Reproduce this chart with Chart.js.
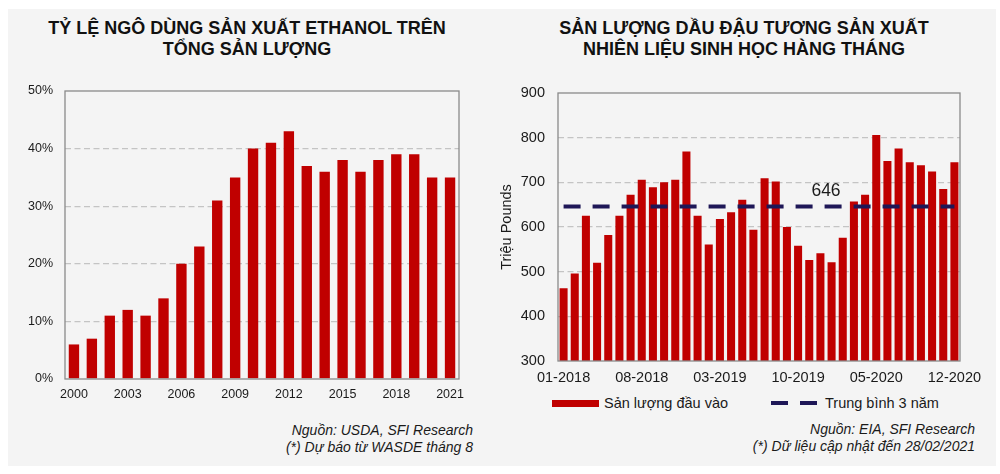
<!DOCTYPE html>
<html lang="vi">
<head>
<meta charset="UTF-8">
<title>Ngô ethanol và dầu đậu tương</title>
<script src="https://cdn.jsdelivr.net/npm/chart.js@4.4.1/dist/chart.umd.min.js"></script>
<style>
    body {
        margin: 0;
        width: 1000px;
        height: 474px;
        background: #ffffff;
        font-family: 'Liberation Sans', Arial, sans-serif;
        color: #1a1a1a;
        position: relative;
        overflow: hidden;
    }
    .panel {
        position: absolute;
        left: 8px; top: 9px;
        width: 988px; height: 457px;
        background: #f4f4f4;
    }
    .title {
        position: absolute;
        top: 18px;
        font-weight: bold;
        font-size: 18px;
        line-height: 21px;
        text-align: center;
        color: #111;
    }
    .box { position: absolute; }
    .note {
        position: absolute;
        font-style: italic;
        font-size: 14px;
        line-height: 17px;
        text-align: right;
        color: #1a1a1a;
    }
    .legend {
        position: absolute;
        top: 394px;
        height: 18px;
        font-size: 14.5px;
        line-height: 18px;
        color: #1a1a1a;
    }
    .swatch {
        position: absolute;
        top: 6px;
        width: 47px;
    }
</style>
</head>
<body>
<div class="panel"></div>

<div class="title" style="left:0; width:494px;">TỶ LỆ NGÔ DÙNG SẢN XUẤT ETHANOL TRÊN<br>TỔNG SẢN LƯỢNG</div>
<div class="title" style="left:494px; width:500px;">SẢN LƯỢNG DẦU ĐẬU TƯƠNG SẢN XUẤT<br>NHIÊN LIỆU SINH HỌC HÀNG THÁNG</div>

<div class="box" style="left:0; top:80px; width:480px; height:330px;">
    <canvas id="ethanol" width="480" height="330"></canvas>
</div>
<div class="box" style="left:490px; top:80px; width:510px; height:310px;">
    <canvas id="soy" width="510" height="310"></canvas>
</div>

<div class="legend" style="left:552px; width:200px;">
    <div class="swatch" style="left:0; height:7px; background:#c00000;"></div>
    <span style="position:absolute; left:52px;">Sản lượng đầu vào</span>
</div>
<div class="legend" style="left:771px; width:200px;">
    <div class="swatch" style="left:0; top:7px; height:4px; background:repeating-linear-gradient(to right, #1e1757 0 17px, transparent 17px 29px);"></div>
    <span style="position:absolute; left:54px;">Trung bình 3 năm</span>
</div>

<div class="note" style="right:527px; top:422px;">Nguồn: USDA, SFI Research<br>(*) Dự báo từ WASDE tháng 8</div>
<div class="note" style="right:25px; top:421px;">Nguồn: EIA, SFI Research<br>(*) Dữ liệu cập nhật đến 28/02/2021</div>

<script>
    // Left chart: share of corn used for ethanol
    const years = ['2000','2001','2002','2003','2004','2005','2006','2007','2008','2009','2010',
                   '2011','2012','2013','2014','2015','2016','2017','2018','2019','2020','2021'];
    const ethanolShare = [6, 7, 11, 12, 11, 14, 20, 23, 31, 35, 40, 41, 43, 37, 36, 38, 36, 38, 39, 39, 35, 35];
    const shareTicks = [0, 10, 20, 30, 40, 50];

    // Right chart: monthly soybean oil used for biofuel (million pounds)
    const months = ['01-2018','02-2018','03-2018','04-2018','05-2018','06-2018','07-2018','08-2018','09-2018','10-2018','11-2018','12-2018',
                    '01-2019','02-2019','03-2019','04-2019','05-2019','06-2019','07-2019','08-2019','09-2019','10-2019','11-2019','12-2019',
                    '01-2020','02-2020','03-2020','04-2020','05-2020','06-2020','07-2020','08-2020','09-2020','10-2020','11-2020','12-2020'];
    const soyInput = [463, 496, 625, 520, 582, 625, 672, 706, 689, 700, 706, 769,
                      625, 561, 618, 633, 661, 594, 709, 702, 600, 558, 526, 541,
                      521, 576, 657, 672, 806, 748, 776, 745, 738, 724, 685, 745];
    const avg3y = 646;
    const soyTicks = [300, 400, 500, 600, 700, 800, 900];

    const RED = '#c00000';
    const NAVY = '#1e1757';
    const GRID = '#c4c4c4';
    const CLEAR = 'rgba(0,0,0,0)';

    Chart.defaults.font.family = "'Liberation Sans', Arial, sans-serif";
    Chart.defaults.color = '#1a1a1a';

    // box around the plot area
    const frame = {
        id: 'frame',
        afterDraw(chart) {
            const a = chart.chartArea;
            const ctx = chart.ctx;
            ctx.save();
            ctx.setLineDash([]);
            ctx.strokeStyle = '#8a8a8a';
            ctx.lineWidth = 1.3;
            ctx.strokeRect(a.left, a.top, a.right - a.left, a.bottom - a.top);
            ctx.restore();
        }
    };

    function innerGrid(ctx) {
        const s = ctx.scale;
        return (ctx.tick.value === s.min || ctx.tick.value === s.max) ? CLEAR : GRID;
    }

    new Chart(document.getElementById('ethanol'), {
        type: 'bar',
        data: {
            labels: years,
            datasets: [{
                label: 'Tỷ lệ',
                data: ethanolShare,
                backgroundColor: RED,
                barPercentage: 0.58,
                categoryPercentage: 1
            }]
        },
        options: {
            responsive: false,
            devicePixelRatio: 1,
            animation: false,
            layout: { padding: { left: 0, right: 21, top: 11, bottom: 0 } },
            plugins: { legend: { display: false }, tooltip: { enabled: false } },
            scales: {
                x: {
                    grid: { display: false, drawTicks: false },
                    border: { display: false },
                    afterFit: s => { s.height = 31; },
                    ticks: {
                        autoSkip: false,
                        maxRotation: 0,
                        padding: 8,
                        font: { size: 12.5 },
                        callback: (v, i) => i % 3 === 0 ? years[i] : ''
                    }
                },
                y: {
                    min: 0,
                    max: 50,
                    afterFit: s => { s.width = 65; },
                    afterBuildTicks: s => { s.ticks = shareTicks.map(v => ({ value: v })); },
                    grid: { color: innerGrid, drawTicks: true, tickLength: 12, tickColor: CLEAR, lineWidth: 1.3 },
                    border: { display: false, dash: [6, 3.5] },
                    ticks: {
                        padding: 0,
                        font: { size: 12.5 },
                        callback: v => v + '%'
                    }
                }
            }
        },
        plugins: [frame]
    });

    // value label for the 3-year average line
    const avgLabel = {
        id: 'avgLabel',
        afterDatasetsDraw(chart) {
            const x = chart.scales.x;
            const y = chart.scales.y;
            const ctx = chart.ctx;
            ctx.save();
            ctx.font = "17.5px 'Liberation Sans', Arial, sans-serif";
            ctx.fillStyle = '#1a1a1a';
            ctx.textAlign = 'center';
            ctx.textBaseline = 'middle';
            ctx.fillText(String(avg3y), (x.getPixelForValue(23) + x.getPixelForValue(24)) / 2, y.getPixelForValue(avg3y) - 15);
            ctx.restore();
        }
    };

    new Chart(document.getElementById('soy'), {
        type: 'bar',
        data: {
            labels: months,
            datasets: [{
                type: 'line',
                label: 'Trung bình 3 năm',
                data: months.map(() => avg3y),
                borderColor: NAVY,
                borderWidth: 4,
                borderDash: [17, 12],
                pointRadius: 0,
                fill: false,
                order: 0
            }, {
                label: 'Sản lượng đầu vào',
                data: soyInput,
                backgroundColor: RED,
                barPercentage: 0.72,
                categoryPercentage: 1,
                order: 1
            }]
        },
        options: {
            responsive: false,
            devicePixelRatio: 1,
            animation: false,
            layout: { padding: { left: 0, right: 40, top: 13, bottom: 0 } },
            plugins: { legend: { display: false }, tooltip: { enabled: false } },
            scales: {
                x: {
                    grid: { display: false, drawTicks: false },
                    border: { display: false },
                    afterFit: s => { s.height = 29; },
                    ticks: {
                        autoSkip: false,
                        maxRotation: 0,
                        padding: 8,
                        font: { size: 14.5 },
                        callback: (v, i) => i % 7 === 0 ? months[i] : ''
                    }
                },
                y: {
                    min: 300,
                    max: 900,
                    afterFit: s => { s.width = 68; },
                    afterBuildTicks: s => { s.ticks = soyTicks.map(v => ({ value: v })); },
                    grid: { color: innerGrid, drawTicks: true, tickLength: 13, tickColor: CLEAR, lineWidth: 1.3 },
                    border: { display: false, dash: [6, 3.5] },
                    title: {
                        display: true,
                        text: 'Triệu Pounds',
                        font: { size: 14.5 },
                        padding: { top: 8, bottom: 4 }
                    },
                    ticks: {
                        padding: 0,
                        font: { size: 14.5 }
                    }
                }
            }
        },
        plugins: [frame, avgLabel]
    });
</script>
</body>
</html>
